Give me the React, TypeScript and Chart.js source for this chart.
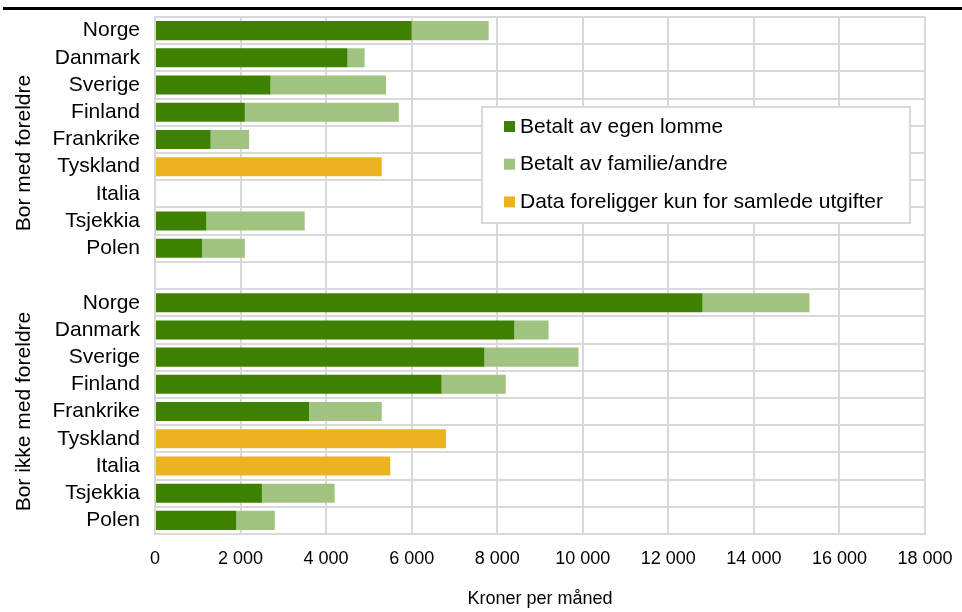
import React, { useEffect, useRef } from 'react';
import { Chart, registerables } from 'chart.js';

Chart.register(...registerables);

const categories = [
  'Norge', 'Danmark', 'Sverige', 'Finland', 'Frankrike', 'Tyskland', 'Italia', 'Tsjekkia', 'Polen',
  '',
  'Norge', 'Danmark', 'Sverige', 'Finland', 'Frankrike', 'Tyskland', 'Italia', 'Tsjekkia', 'Polen',
];
const ownPocket = [6000, 4500, 2700, 2100, 1300, null, null, 1200, 1100, null, 12800, 8400, 7700, 6700, 3600, null, null, 2500, 1900];
const familyOther = [1800, 400, 2700, 3600, 900, null, null, 2300, 1000, null, 2500, 800, 2200, 1500, 1700, null, null, 1700, 900];
const totalOnly = [null, null, null, null, null, 5300, null, null, null, null, null, null, null, null, null, 6800, 5500, null, null];
const seriesLabels = ['Betalt av egen lomme', 'Betalt av familie/andre', 'Data foreligger kun for samlede utgifter'];
const seriesColors = ['#3e8100', '#a0c480', '#ecb220'];
const groupLabels = ['Bor med foreldre', 'Bor ikke med foreldre'];
const groupRanges = [[0, 9], [10, 18]];
const xMax = 18000;
const xStep = 2000;
const xTitle = 'Kroner per måned';

const FONT = '"Liberation Sans", Arial, sans-serif';
const GRID = '#d9d9d9';

function fmt(v: number) {
  return String(v).replace(/\B(?=(\d{3})+(?!\d))/g, ' ');
}

const extrasPlugin = {
  id: 'extras',
  afterDraw(chart: any) {
    const ctx = chart.ctx;
    const y = chart.scales.y;
    ctx.save();
    // group labels
    ctx.fillStyle = '#000';
    ctx.font = `21px ${FONT}`;
    ctx.textAlign = 'center';
    ctx.textBaseline = 'middle';
    groupLabels.forEach((lab, i) => {
      const [a, b] = groupRanges[i];
      const cy = (y.getPixelForValue(a) + y.getPixelForValue(b)) / 2;
      ctx.save();
      ctx.translate(24, cy);
      ctx.rotate(-Math.PI / 2);
      ctx.fillText(lab, 0, 0);
      ctx.restore();
    });
    // legend
    const bx = 482, by = 107, bw = 428, bh = 116;
    ctx.fillStyle = '#fff';
    ctx.fillRect(bx, by, bw, bh);
    ctx.strokeStyle = GRID;
    ctx.lineWidth = 2;
    ctx.strokeRect(bx, by, bw, bh);
    ctx.textAlign = 'left';
    ctx.font = `21px ${FONT}`;
    seriesLabels.forEach((lab, i) => {
      const cy = by + 19 + i * 37.7;
      ctx.fillStyle = seriesColors[i];
      ctx.fillRect(504, cy - 5, 11, 11);
      ctx.fillStyle = '#000';
      ctx.fillText(lab, 520, cy + 1);
    });
    ctx.restore();
  },
};

export default function App() {
  const ref = useRef<HTMLCanvasElement>(null);
  useEffect(() => {
    if (!ref.current) return;
    const chart = new Chart(ref.current, {
      type: 'bar',
      data: {
        labels: categories,
        datasets: [
          { label: seriesLabels[0], data: ownPocket as any, backgroundColor: seriesColors[0], stack: 's' },
          { label: seriesLabels[1], data: familyOther as any, backgroundColor: seriesColors[1], stack: 's' },
          { label: seriesLabels[2], data: totalOnly as any, backgroundColor: seriesColors[2], stack: 's' },
        ],
      },
      options: {
        indexAxis: 'y',
        animation: false,
        responsive: false,
        maintainAspectRatio: false,
        layout: { padding: { top: 17, right: 37, left: 0, bottom: 0 } },
        datasets: { bar: { barPercentage: 0.7, categoryPercentage: 1 } },
        plugins: { legend: { display: false }, tooltip: { enabled: false }, title: { display: false } },
        scales: {
          x: {
            stacked: true,
            min: 0,
            max: xMax,
            ticks: {
              stepSize: xStep,
              color: '#000',
              font: { family: FONT, size: 18 },
              padding: 14,
              maxRotation: 0,
              callback: (v: any) => fmt(Number(v)),
            },
            grid: { color: GRID, lineWidth: 2, drawTicks: false },
            border: { color: GRID, width: 2 },
            title: { display: true, text: xTitle, color: '#000', font: { family: FONT, size: 18 }, padding: { top: 0, bottom: 2 } },
            afterFit: (s: any) => { s.height = 78; s.paddingLeft = 0; s.paddingRight = 0; },
          },
          y: {
            stacked: true,
            ticks: { color: '#000', font: { family: FONT, size: 21 }, padding: 15, autoSkip: false },
            grid: { color: GRID, lineWidth: 2, drawTicks: false },
            border: { color: GRID, width: 2 },
            afterFit: (s: any) => { s.width = 155; s.paddingTop = 0; s.paddingBottom = 0; },
          },
        },
      },
      plugins: [extrasPlugin],
    });
    return () => chart.destroy();
  }, []);
  return (
    <div style={{ position: 'fixed', left: 0, top: 0, width: 962, height: 612, background: '#fff' }}>
      <div style={{ position: 'absolute', left: 3, right: 0, top: 7, height: 3, background: '#000' }} />
      <canvas ref={ref} width={962} height={612} style={{ display: 'block', width: 962, height: 612 }} />
    </div>
  );
}
